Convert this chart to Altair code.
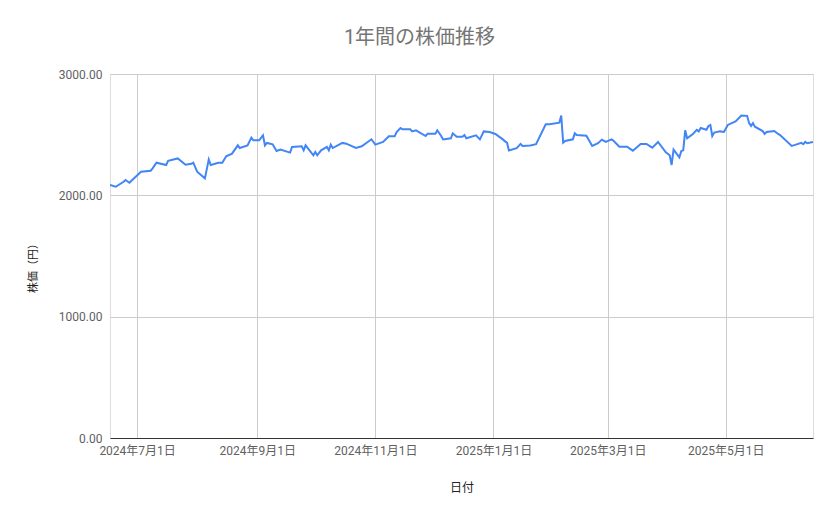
import altair as alt
import pandas as pd

dates = [
    "2024-06-17", "2024-06-20", "2024-06-24", "2024-06-25", "2024-06-27", "2024-07-03",
    "2024-07-08", "2024-07-09", "2024-07-11", "2024-07-16", "2024-07-17", "2024-07-22",
    "2024-07-26", "2024-07-29", "2024-07-30", "2024-08-01", "2024-08-05", "2024-08-07",
    "2024-08-08", "2024-08-12", "2024-08-14", "2024-08-16", "2024-08-19", "2024-08-22",
    "2024-08-23", "2024-08-27", "2024-08-29", "2024-08-30", "2024-09-02", "2024-09-04",
    "2024-09-05", "2024-09-06", "2024-09-09", "2024-09-11", "2024-09-13", "2024-09-18",
    "2024-09-19", "2024-09-24", "2024-09-25", "2024-09-26", "2024-09-30", "2024-10-01",
    "2024-10-02", "2024-10-04", "2024-10-07", "2024-10-08", "2024-10-09", "2024-10-10",
    "2024-10-15", "2024-10-17", "2024-10-22", "2024-10-25", "2024-10-30", "2024-11-01",
    "2024-11-05", "2024-11-08", "2024-11-11", "2024-11-12", "2024-11-14", "2024-11-15",
    "2024-11-19", "2024-11-20", "2024-11-22", "2024-11-27", "2024-11-28", "2024-12-02",
    "2024-12-03", "2024-12-05", "2024-12-06", "2024-12-10", "2024-12-11", "2024-12-13",
    "2024-12-16", "2024-12-17", "2024-12-18", "2024-12-23", "2024-12-25", "2024-12-27",
    "2024-12-30", "2025-01-02", "2025-01-06", "2025-01-07", "2025-01-08", "2025-01-09",
    "2025-01-13", "2025-01-15", "2025-01-16", "2025-01-20", "2025-01-23", "2025-01-28",
    "2025-01-30", "2025-02-04", "2025-02-05", "2025-02-06", "2025-02-07", "2025-02-11",
    "2025-02-12", "2025-02-13", "2025-02-18", "2025-02-21", "2025-02-24", "2025-02-26",
    "2025-02-28", "2025-03-03", "2025-03-04", "2025-03-07", "2025-03-11", "2025-03-13",
    "2025-03-14", "2025-03-18", "2025-03-21", "2025-03-24", "2025-03-27", "2025-03-31",
    "2025-04-02", "2025-04-03", "2025-04-04", "2025-04-07", "2025-04-08", "2025-04-09",
    "2025-04-10", "2025-04-11", "2025-04-14", "2025-04-16", "2025-04-17", "2025-04-18",
    "2025-04-21", "2025-04-22", "2025-04-23", "2025-04-24", "2025-04-25", "2025-04-28",
    "2025-04-30", "2025-05-02", "2025-05-06", "2025-05-09", "2025-05-12", "2025-05-13",
    "2025-05-14", "2025-05-15", "2025-05-16", "2025-05-20", "2025-05-21", "2025-05-22",
    "2025-05-26", "2025-05-28", "2025-05-29", "2025-06-04", "2025-06-05", "2025-06-09",
    "2025-06-10", "2025-06-11", "2025-06-12", "2025-06-15",
]

prices = [
    2085, 2071, 2112, 2126, 2104, 2195,
    2203, 2222, 2269, 2250, 2285, 2304,
    2252, 2260, 2269, 2195, 2140, 2296,
    2250, 2269, 2269, 2322, 2344, 2412,
    2390, 2412, 2476, 2454, 2454, 2495,
    2412, 2432, 2421, 2365, 2377, 2352,
    2399, 2404, 2371, 2412, 2330, 2357,
    2330, 2371, 2399, 2371, 2418, 2390,
    2432, 2426, 2390, 2404, 2462, 2418,
    2440, 2486, 2486, 2522, 2555, 2544,
    2544, 2527, 2536, 2489, 2508, 2508,
    2536, 2489, 2461, 2470, 2511, 2483,
    2483, 2497, 2470, 2494, 2461, 2527,
    2522, 2506, 2459, 2445, 2434, 2369,
    2389, 2424, 2407, 2410, 2421, 2586,
    2586, 2599, 2657, 2434, 2448, 2462,
    2511, 2497, 2492, 2407, 2429, 2459,
    2440, 2461, 2450, 2401, 2401, 2379,
    2368, 2424, 2424, 2393, 2440, 2355,
    2330, 2250, 2377, 2313, 2365, 2371,
    2536, 2470, 2506, 2540, 2527, 2555,
    2540, 2572, 2580, 2489, 2517, 2527,
    2522, 2580, 2609, 2657, 2655, 2595,
    2572, 2595, 2566, 2530, 2506, 2522,
    2530, 2506, 2497, 2407, 2412, 2432,
    2421, 2440, 2429, 2440,
]

x_ticks = ["2024-07-01", "2024-09-01", "2024-11-01", "2025-01-01", "2025-03-01", "2025-05-01"]
x_range = ["2024-06-17", "2025-06-15"]
y_ticks = [0, 1000, 2000, 3000]

df = pd.DataFrame({"date": dates, "price": prices})

FONT = "Roboto, 'Noto Sans CJK JP', sans-serif"


def dt(s):
    y, m, d = (int(v) for v in s.split("-"))
    return alt.DateTime(year=y, month=m, date=d, utc=True)


chart = alt.Chart(df).mark_line(color="#4285f4", strokeWidth=2, clip=True).encode(
    x=alt.X(
        "utcyearmonthdate(date):T",
        scale=alt.Scale(domain=[dt(x_range[0]), dt(x_range[1])], nice=False),
        axis=alt.Axis(
            title="日付",
            values=[dt(s) for s in x_ticks],
            format="%Y年%-m月%-d日",
            labelFont=FONT,
            labelFontSize=12,
            labelColor="#5f5f5f",
            labelPadding=7,
            labelOverlap=False,
            labelFlush=False,
            ticks=False,
            tickSize=0,
            grid=True,
            gridColor="#cccccc",
            gridWidth=1,
            domain=True,
            domainColor="#333333",
            domainWidth=1,
            titleFont=FONT,
            titleFontSize=12,
            titleFontWeight="normal",
            titleColor="#222222",
            titleY=49,
            titleBaseline="middle",
        ),
    ),
    y=alt.Y(
        "price:Q",
        scale=alt.Scale(domain=[0, 3000], nice=False, zero=True),
        axis=alt.Axis(
            title="株価（円）",
            values=y_ticks,
            format=".2f",
            labelFont=FONT,
            labelFontSize=12,
            labelColor="#5f5f5f",
            labelPadding=8,
            ticks=False,
            tickSize=0,
            domain=False,
            grid=True,
            gridColor="#cccccc",
            gridWidth=1,
            titleFont=FONT,
            titleFontSize=11,
            titleFontWeight="normal",
            titleColor="#222222",
            titleAngle=-90,
            titleX=-77,
            titleY=191,
            titleAlign="center",
            titleBaseline="middle",
        ),
    ),
).properties(
    width=703,
    height=364,
    title=alt.TitleParams(
        text="1年間の株価推移",
        font=FONT,
        fontSize=20,
        fontWeight="normal",
        color="#757575",
        anchor="middle",
        dx=-42,
        offset=20,
    ),
    autosize=alt.AutoSizeParams(type="none"),
    padding={"left": 102, "top": 66, "right": 18, "bottom": 73},
).configure_view(stroke=None).configure(background="white")

chart.save("out.html", embed_options={"renderer": "svg", "actions": False})
